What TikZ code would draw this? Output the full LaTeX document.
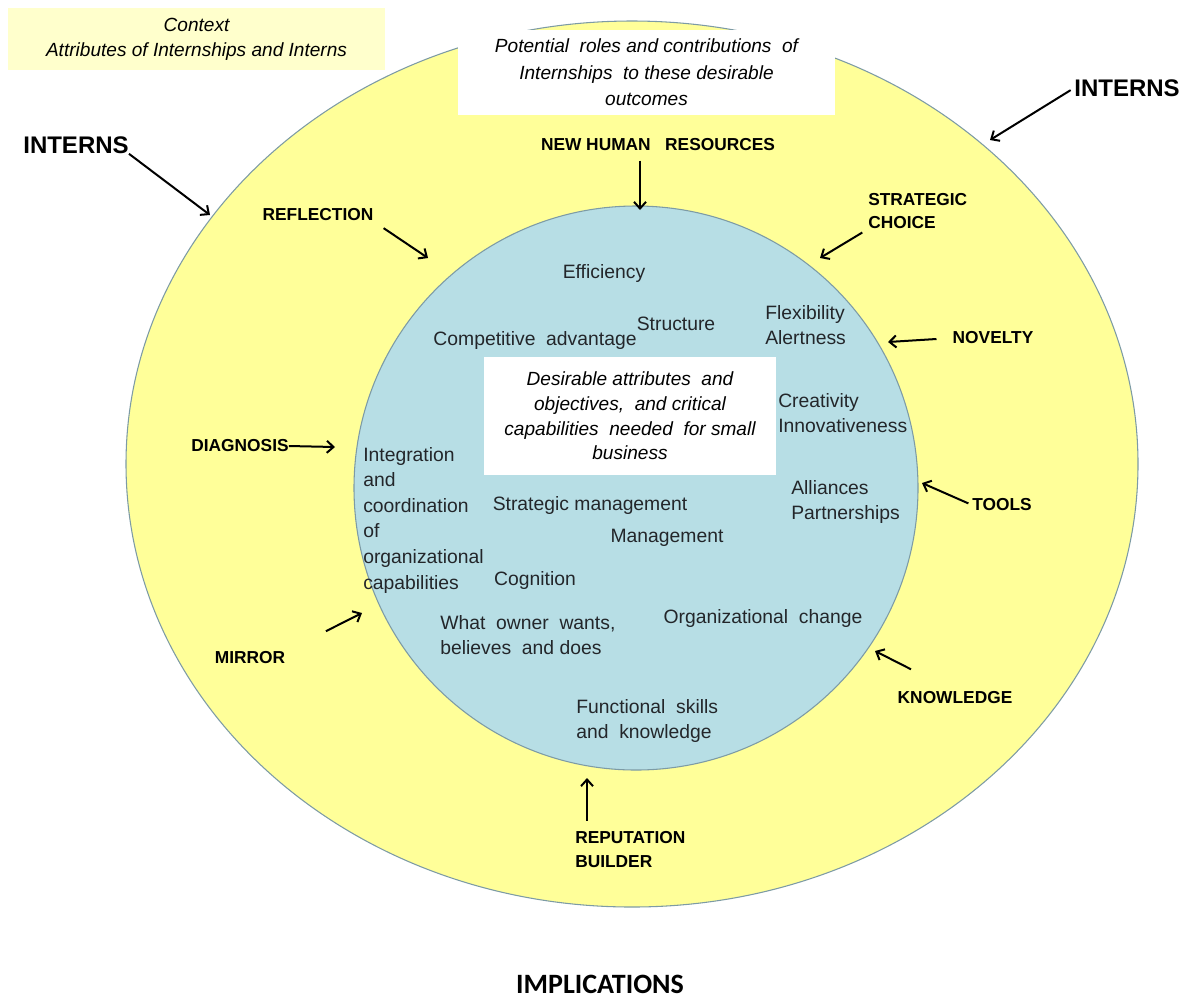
\documentclass[tikz,border=0pt]{standalone}
\usepackage{fontspec}
\setmainfont{Liberation Sans}
\newfontfamily\footfont{Carlito}
\usetikzlibrary{arrows.meta}
\definecolor{outerfill}{RGB}{255,255,153}
\definecolor{innerfill}{RGB}{183,222,229}
\definecolor{contextfill}{RGB}{255,255,204}
\definecolor{rim}{RGB}{125,155,165}
\definecolor{inktext}{RGB}{35,38,42}

\begin{document}
\begin{tikzpicture}[x=0.75pt,y=-0.75pt,
    >={Straight Barb[length=5pt,width=9pt]},
    ring/.style={draw=rim,line width=0.8pt},
    tag/.style={font=\fontsize{18}{20}\selectfont\bfseries,inner sep=0pt},
    role/.style={font=\fontsize{13}{17.5}\selectfont\bfseries,inner sep=0pt,align=left},
    item/.style={font=\fontsize{14.5}{19}\selectfont,text=inktext,inner sep=0pt,align=left},
    note/.style={font=\fontsize{14.3}{19}\selectfont\itshape,inner sep=0pt,align=center},
    pointer/.style={->,line width=1.5pt}]
  \useasboundingbox (0,0) rectangle (1187,1001);

  % rings
  \draw[ring,fill=outerfill] (632,464) ellipse [x radius=506,y radius=443];
  \draw[ring,fill=innerfill] (636,488) circle [radius=282];

  % boxes
  \node[note,fill=contextfill,minimum width=282.75pt,minimum height=46.5pt,
        font=\fontsize{14.3}{18.75}\selectfont\itshape] (context) at (196.5,39)
    {Context\\Attributes of Internships and Interns};
  \node[note,fill=white,minimum width=282.75pt,minimum height=63.75pt,
        font=\fontsize{14.3}{19.8}\selectfont\itshape] (roles) at (646.5,72.5)
    {Potential\ \ roles and contributions\ \ of\\Internships\ \ to these desirable\\outcomes};
  \node[note,fill=white,minimum width=219pt,minimum height=88.5pt,
        font=\fontsize{14.3}{18.5}\selectfont\itshape] (core) at (630,416)
    {Desirable attributes\ \ and\\objectives,\ \ and critical\\capabilities\ \ needed\ \ for small\\business};

  % contributions of internships
  \node[tag] (internsL) at (76,145) {INTERNS};
  \node[tag] (internsR) at (1127,88) {INTERNS};
  \node[role] (humanres) at (658,145) {NEW HUMAN\ \ \ RESOURCES};
  \node[role] (reflection) at (318,215) {REFLECTION};
  \node[role,anchor=west] (choice) at (868,211) {STRATEGIC\\CHOICE};
  \node[role] (novelty) at (993,338) {NOVELTY};
  \node[role] (diagnosis) at (240,446) {DIAGNOSIS};
  \node[role] (tools) at (1002,505) {TOOLS};
  \node[role] (mirror) at (250,658) {MIRROR};
  \node[role] (knowledge) at (955,698) {KNOWLEDGE};
  \node[role,anchor=west,font=\fontsize{13}{18}\selectfont\bfseries] (reputation) at (575,850) {REPUTATION\\BUILDER};

  \coordinate (tipIL) at (210,215);
  \coordinate (tipIR) at (990,140);
  \coordinate (tipHR) at (640,210);
  \coordinate (tipRf) at (428,258);
  \coordinate (tipSC) at (820,258);
  \coordinate (tipNv) at (888,342);
  \coordinate (tipDg) at (335,447);
  \coordinate (tipTl) at (922,483);
  \coordinate (tipMr) at (362,613);
  \coordinate (tipKn) at (875,651);
  \coordinate (tipRp) at (587,778);

  \draw[pointer] (internsL.south east) -- (tipIL);
  \draw[pointer,shorten <=3pt] (internsR.west) -- (tipIR);
  \draw[pointer,shorten <=7pt] (tipHR |- humanres.south) -- (tipHR);
  \draw[pointer,shorten <=9pt] (reflection.south east) -- (tipRf);
  \draw[pointer,shorten <=5pt] (choice.south west) -- (tipSC);
  \draw[pointer,shorten <=12pt] (novelty.west) -- (tipNv);
  \draw[pointer] (diagnosis.east) -- (tipDg);
  \draw[pointer,shorten <=3pt] (tools.west) -- (tipTl);
  \draw[pointer,shorten <=34pt] (mirror.north east) -- (tipMr);
  \draw[pointer,shorten <=37pt] (knowledge.north) -- (tipKn);
  \draw[pointer,shorten <=8pt] (tipRp |- reputation.north) -- (tipRp);

  % desirable attributes
  \node[item] (efficiency) at (604,273) {Efficiency};
  \node[item] (structure) at (676,324) {Structure};
  \node[item] (advantage) at (535,340) {Competitive\ \ advantage};
  \node[item,anchor=west] (flexibility) at (765,325) {Flexibility\\Alertness};
  \node[item,anchor=west] (creativity) at (778,413) {Creativity\\Innovativeness};
  \node[item,anchor=west,font=\fontsize{14.5}{19.2}\selectfont] (integration) at (363,520)
    {Integration\\and\\coordination\\of\\organizational\\capabilities};
  \node[item] (stratmgmt) at (590,505) {Strategic management};
  \node[item] (management) at (667,538) {Management};
  \node[item,anchor=west] (alliances) at (791,502) {Alliances\\Partnerships};
  \node[item] (cognition) at (535,580) {Cognition};
  \node[item,anchor=west] (owner) at (440,635) {What\ \ owner\ \ wants,\\believes\ \ and does};
  \node[item] (orgchange) at (763,618) {Organizational\ \ change};
  \node[item,anchor=west] (functional) at (576,721) {Functional\ \ skills\\and\ \ knowledge};

  \node[font=\fontsize{21}{23}\selectfont\footfont\bfseries,inner sep=0pt] (implications) at (600,984) {IMPLICATIONS};
\end{tikzpicture}
\end{document}
